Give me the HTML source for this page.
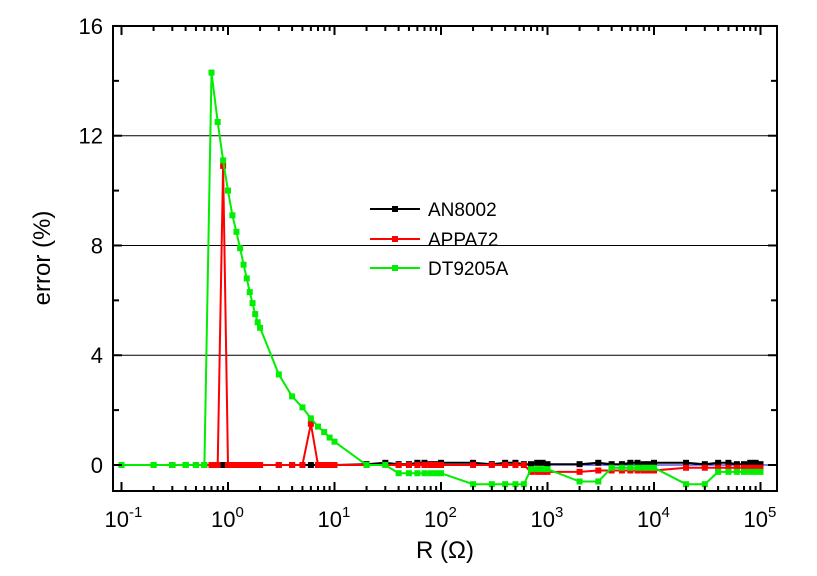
<!DOCTYPE html>
<html><head><meta charset="utf-8"><style>
body{margin:0;background:#fff;}
svg text{font-family:"Liberation Sans",Arial,sans-serif;}
</style></head><body>
<svg id="s" width="817" height="571" xmlns="http://www.w3.org/2000/svg"></svg>
<script>
const L=113,T=26,R=777,B=491;
const X=v=>228+106.5*Math.log10(v), Y=v=>465-27.44*v;
let h='';
[4,8,12].forEach(v=>h+=`<line x1="${L}" x2="${R}" y1="${Y(v)}" y2="${Y(v)}" stroke="#000" stroke-width="1"/>`);
h+=`<line x1="${L}" x2="${R}" y1="${Y(0)}" y2="${Y(0)}" stroke="#0000cc" stroke-width="1"/>`;
function series(pts,col){
 pts.sort((a,b)=>a[0]-b[0]);
 let p=pts.map(q=>X(q[0]).toFixed(1)+','+Y(q[1]).toFixed(1)).join(' ');
 let s=`<polyline points="${p}" fill="none" stroke="${col}" stroke-width="2"/>`;
 pts.forEach(q=>s+=`<rect x="${X(q[0])-3}" y="${Y(q[1])-3}" width="6" height="6" fill="${col}"/>`);
 return s;
}
function decs(a,b,f){let r=[];for(let e=a;e<b;e++)for(let m=1;m<10;m++){let v=m*Math.pow(10,e);r.push([v,f(v)]);}r.push([Math.pow(10,b),f(Math.pow(10,b))]);return r;}
let extra=[1.1,1.2,1.3,1.4,1.5,1.6,1.7,1.8,1.9];
let bk=decs(-1,5,v=>v<20?0:((Math.log10(v)*7)%2<1?0.08:0.03));
h+=series(bk,'#000');
let rd=decs(-1,5,v=>{if(v<0.85)return 0;if(Math.abs(v-0.9)<0.01)return 10.9;if(v<5.5)return 0;if(Math.abs(v-6)<0.01)return 1.5;if(v<50)return 0;let l=Math.log10(v);return l<2.8?0.0:(l<3.4?-0.25:(l<4.3?-0.2:-0.1));});
extra.forEach(v=>rd.push([v,0]));
h+=series(rd,'#ff0000');
let gmap={0.7:14.3,0.8:12.5,0.9:11.1,1:10,2:5,3:3.3,4:2.5,5:2.1,6:1.7,7:1.4,8:1.2,9:1.0,10:0.85,20:0};
let gd=decs(-1,5,v=>{let k=+v.toPrecision(3);if(k in gmap)return gmap[k];if(v<0.65)return 0;if(v<20&&v>1)return 0;if(v<40)return 0;let l=Math.log10(v);
 if(l<2.1)return -0.3;if(l<2.8)return -0.7;if(l<3.3)return -0.15;if(l<3.6)return -0.6;if(l<4.3)return -0.1;if(l<4.6)return -0.7;return -0.25;});
[[1.1,9.1],[1.2,8.5],[1.3,7.9],[1.4,7.3],[1.5,6.8],[1.6,6.3],[1.7,5.9],[1.8,5.5],[1.9,5.2]].forEach(q=>gd.push(q));
h+=series(gd,'#00ee00');
h+=`<rect x="${L}" y="${T}" width="${R-L}" height="${B-T}" fill="none" stroke="#000" stroke-width="2"/>`;
for(let v=0;v<=16;v+=2){let y=Y(v),len=v%4==0?9:6;h+=`<line x1="${L}" x2="${L+len}" y1="${y}" y2="${y}" stroke="#000" stroke-width="2"/><line x1="${R}" x2="${R-len}" y1="${y}" y2="${y}" stroke="#000" stroke-width="2"/>`;
 if(v%4==0)h+=`<text x="${L-10}" y="${y+8}" font-size="22" text-anchor="end">${v}</text>`;}
for(let e=-1;e<=5;e++)for(let m=1;m<10;m++){if(e==5&&m>1)break;let x=X(m*Math.pow(10,e)),len=m==1?9:5;
 h+=`<line x1="${x}" x2="${x}" y1="${B}" y2="${B-len}" stroke="#000" stroke-width="2"/><line x1="${x}" x2="${x}" y1="${T}" y2="${T+len}" stroke="#000" stroke-width="2"/>`;
 if(m==1)h+=`<text x="${x-17}" y="${B+36}" font-size="22">10<tspan dy="-10" font-size="15">${e}</tspan></text>`;}
h+=`<text x="${(L+R)/2}" y="558" font-size="24" text-anchor="middle">R (Ω)</text>`;
h+=`<text transform="translate(50,258) rotate(-90)" font-size="24" text-anchor="middle">error (%)</text>`;
[['AN8002','#000',209],['APPA72','#ff0000',239],['DT9205A','#00ee00',268]].forEach(a=>{
 h+=`<line x1="370" x2="420" y1="${a[2]}" y2="${a[2]}" stroke="${a[1]}" stroke-width="2"/><rect x="392" y="${a[2]-3}" width="6" height="6" fill="${a[1]}"/><text x="428" y="${a[2]+7}" font-size="19">${a[0]}</text>`;});
document.getElementById('s').innerHTML=h;
</script>
</body></html>
